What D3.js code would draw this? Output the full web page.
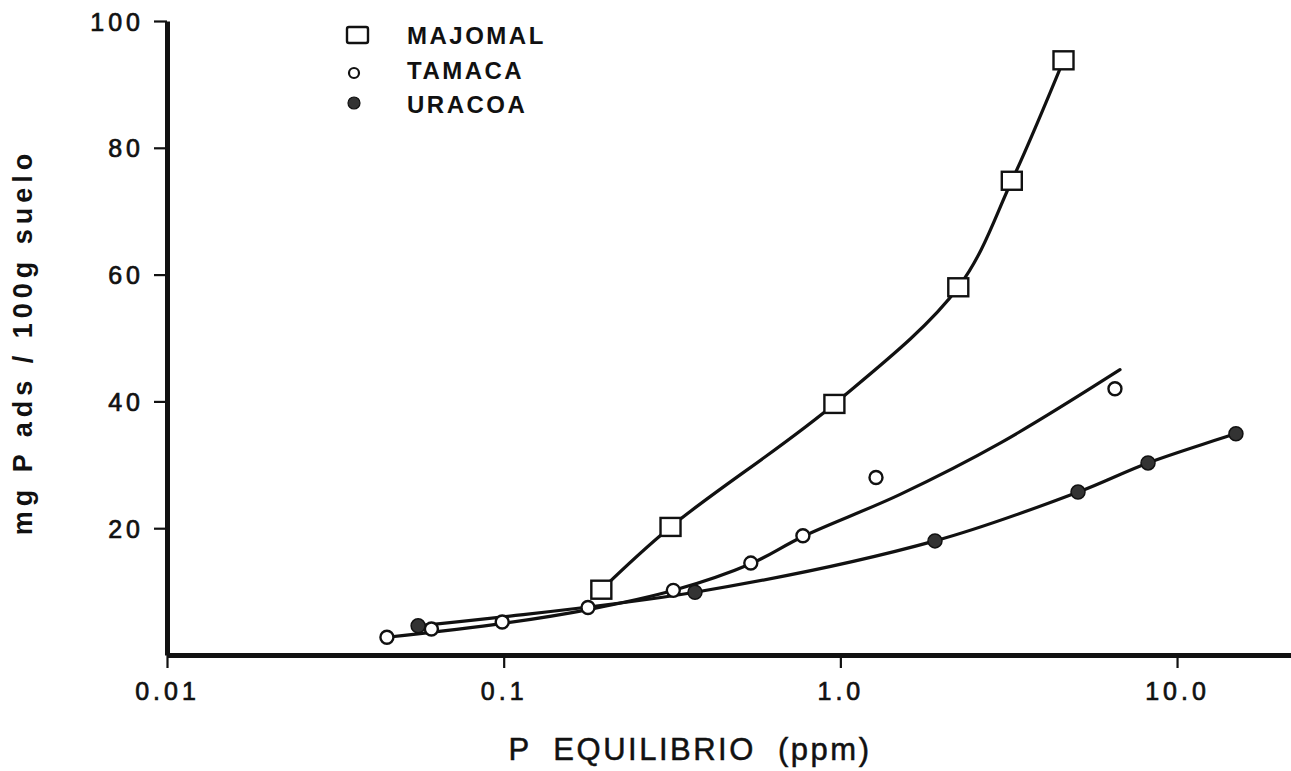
<!DOCTYPE html>
<html>
<head>
<meta charset="utf-8">
<script src="https://cdn.jsdelivr.net/npm/d3@7"></script>
<style>
  html, body { margin: 0; padding: 0; background: #fff; }
  svg { display: block; }
  text { font-family: "Liberation Sans", Arial, sans-serif; fill: #111; }
</style>
</head>
<body>
<svg id="chart" width="1291" height="771"></svg>
<script>
// Phosphorus adsorption isotherms for three soils
const seriesNames = ["MAJOMAL", "TAMACA", "URACOA"];

const majomalP = [0.195, 0.313, 0.96, 2.24, 3.23, 4.6];
const majomalAds = [10.3, 20.2, 39.6, 58.0, 74.8, 93.8];

const tamacaP = [0.045, 0.061, 0.099, 0.178, 0.319, 0.542, 0.774, 1.276, 6.54];
const tamacaAds = [2.8, 4.1, 5.2, 7.5, 10.2, 14.5, 18.8, 28.0, 42.0];

// fitted line drawn for TAMACA
const tamacaFitP = [0.045, 0.1, 0.18, 0.32, 0.542, 0.774, 1.5, 3.0, 6.77];
const tamacaFitAds = [2.8, 5.0, 7.2, 10.2, 14.4, 18.7, 25.3, 33.5, 45.0];

const uracoaP = [0.0557, 0.37, 1.91, 5.08, 8.2, 14.96];
const uracoaAds = [4.6, 9.9, 18.0, 25.7, 30.3, 34.9];

const xTickValues = [0.01, 0.1, 1, 10];
const xTickLabels = ["0.01", "0.1", "1.0", "10.0"];
const yTickValues = [20, 40, 60, 80, 100];

const xTitle = "P  EQUILIBRIO  (ppm)";
const yTitle = "mg P ads / 100g suelo";

const svg = d3.select("#chart");

const x = d3.scaleLog().domain([0.01, 21.8]).range([167, 1291]);
const y = d3.scaleLinear().domain([0, 100]).range([655, 21]);

const zip = (xs, ys) => xs.map((v, i) => [v, ys[i]]);
const line = d3.line()
  .x(d => x(d[0]))
  .y(d => y(d[1]))
  .curve(d3.curveCatmullRom.alpha(0.5));

// curves
const curves = svg.append("g")
  .attr("fill", "none")
  .attr("stroke", "#111")
  .attr("stroke-width", 3.2)
  .attr("stroke-linecap", "round");

curves.append("path").attr("d", line(zip(majomalP, majomalAds)));
curves.append("path").attr("d", line(zip(tamacaFitP, tamacaFitAds)));
curves.append("path").attr("d", line(zip(uracoaP, uracoaAds)));

// axes
const xAxis = d3.axisBottom(x)
  .tickValues(xTickValues)
  .tickFormat((d, i) => xTickLabels[i])
  .tickSizeInner(13)
  .tickSizeOuter(0)
  .tickPadding(14);

const yAxis = d3.axisLeft(y)
  .tickValues(yTickValues)
  .tickSizeInner(13)
  .tickSizeOuter(0)
  .tickPadding(10);

const gx = svg.append("g").attr("transform", `translate(0,${y(0)})`).call(xAxis);
const gy = svg.append("g").attr("transform", `translate(${x(0.01)},0)`).call(yAxis);

[gx, gy].forEach(g => {
  g.select(".domain").attr("stroke", "#111").attr("stroke-width", 5);
  g.selectAll(".tick line").attr("stroke", "#111").attr("stroke-width", 2.2);
  g.selectAll(".tick text")
    .attr("fill", "#111")
    .style("font-family", "'Liberation Sans', Arial, sans-serif")
    .style("font-size", "25px")
    .style("letter-spacing", "4px")
    .attr("stroke", "#111")
    .attr("stroke-width", 0.7);
});
gy.selectAll(".tick text").attr("dy", "0.36em");

// axis titles
svg.append("text")
  .attr("x", 690)
  .attr("y", 760)
  .attr("text-anchor", "middle")
  .style("font-size", "31px")
  .style("letter-spacing", "2.5px")
  .attr("stroke", "#111")
  .attr("stroke-width", 0.5)
  .attr("xml:space", "preserve")
  .style("white-space", "pre")
  .text(xTitle);

svg.append("text")
  .attr("transform", "translate(32,342) rotate(-90)")
  .attr("text-anchor", "middle")
  .style("font-size", "27px")
  .style("font-weight", "bold")
  .style("letter-spacing", "5px")
  .text(yTitle);

// markers
const marks = svg.append("g");

marks.selectAll("circle.tam")
  .data(zip(tamacaP, tamacaAds))
  .join("circle")
  .attr("class", "tam")
  .attr("cx", d => x(d[0]))
  .attr("cy", d => y(d[1]))
  .attr("r", 6.5)
  .attr("fill", "#fff")
  .attr("stroke", "#111")
  .attr("stroke-width", 2.4);

marks.selectAll("circle.ura")
  .data(zip(uracoaP, uracoaAds))
  .join("circle")
  .attr("class", "ura")
  .attr("cx", d => x(d[0]))
  .attr("cy", d => y(d[1]))
  .attr("r", 7)
  .attr("fill", "#333")
  .attr("stroke", "#111")
  .attr("stroke-width", 1.5);

marks.selectAll("rect.maj")
  .data(zip(majomalP, majomalAds))
  .join("rect")
  .attr("class", "maj")
  .attr("x", d => x(d[0]) - 10)
  .attr("y", d => y(d[1]) - 9)
  .attr("width", 20)
  .attr("height", 18)
  .attr("fill", "#fff")
  .attr("stroke", "#111")
  .attr("stroke-width", 2.4);

// legend
const legend = svg.append("g");
const legendRows = [
  { name: seriesNames[0], y: 35 },
  { name: seriesNames[1], y: 70 },
  { name: seriesNames[2], y: 104 }
];
legendRows.forEach((row, i) => {
  if (i === 0) {
    legend.append("rect")
      .attr("x", 347).attr("y", row.y - 8)
      .attr("width", 21).attr("height", 16)
      .attr("rx", 2)
      .attr("fill", "#fff").attr("stroke", "#111").attr("stroke-width", 2.4);
  } else if (i === 1) {
    legend.append("circle")
      .attr("cx", 354).attr("cy", row.y + 3).attr("r", 5)
      .attr("fill", "#fff").attr("stroke", "#111").attr("stroke-width", 2.2);
  } else {
    legend.append("circle")
      .attr("cx", 354).attr("cy", row.y - 1).attr("r", 6)
      .attr("fill", "#333").attr("stroke", "#111").attr("stroke-width", 1.2);
  }
  legend.append("text")
    .attr("x", 407)
    .attr("y", row.y + 9)
    .style("font-size", "24px")
    .style("font-weight", "bold")
    .style("letter-spacing", "2.5px")
    .text(row.name);
});
</script>
</body>
</html>
